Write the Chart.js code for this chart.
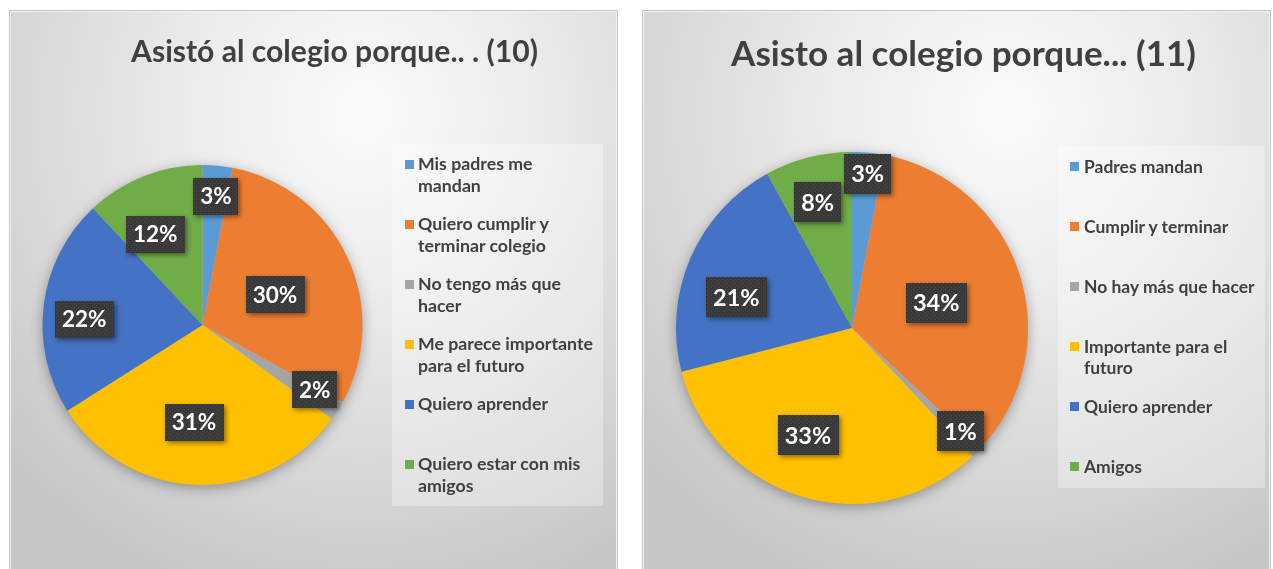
<!DOCTYPE html>
<html>
<head>
<meta charset="utf-8">
<script src="https://cdn.jsdelivr.net/npm/chart.js@4.4.1/dist/chart.umd.min.js"></script>
<style>
  html,body{margin:0;padding:0;background:#ffffff;}
  body{width:1273px;height:569px;overflow:hidden;position:relative;font-family:Lato,"Open Sans",sans-serif;}
  .panel{position:absolute;box-sizing:border-box;border:1px solid #c3c3c3;
    box-shadow:inset 0 0 0 1px #f2f2f2;
    background:radial-gradient(ellipse 80% 90% at 58% 18%, #fbfbfb 0%, #ececec 35%, #d8d8d8 70%, #c6c6c6 100%);}
  .panel canvas{position:absolute;left:0;top:0;}
  .title{position:absolute;white-space:nowrap;color:#404040;font-weight:700;line-height:1.2;text-align:center;}
  .legend{position:absolute;background:rgba(255,255,255,0.32);box-sizing:border-box;}
  .item{position:absolute;left:0;right:0;height:60px;color:#404040;font-weight:700;white-space:nowrap;}
  .item .mk{position:absolute;width:9px;height:9px;}
  .item .tx{position:absolute;}
</style>
</head>
<body>
<div class="panel" id="p10" style="left:9px;top:10px;width:609px;height:565px;">
  <canvas id="c10" width="609" height="565"></canvas>
  <div class="title" id="t10"></div>
  <div class="legend" id="l10"></div>
</div>
<div class="panel" id="p11" style="left:642px;top:10px;width:629px;height:565px;">
  <canvas id="c11" width="629" height="565"></canvas>
  <div class="title" id="t11"></div>
  <div class="legend" id="l11"></div>
</div>
<script>
// ---------------- data ----------------
const title10 = "Asistó al colegio porque.. . (10)";
const categories10 = [
  ["Mis padres me", "mandan"],
  ["Quiero cumplir y", "terminar colegio"],
  ["No tengo más que", "hacer"],
  ["Me parece importante", "para el futuro"],
  ["Quiero aprender"],
  ["Quiero estar con mis", "amigos"]
];
const values10 = [3, 30, 2, 31, 22, 12];

const title11 = "Asisto al colegio porque... (11)";
const categories11 = [
  ["Padres mandan"],
  ["Cumplir y terminar"],
  ["No hay más que hacer"],
  ["Importante para el", "futuro"],
  ["Quiero aprender"],
  ["Amigos"]
];
const values11 = [3, 34, 1, 33, 21, 8];

const sliceColors = ["#5B9BD5", "#ED7D31", "#A5A5A5", "#FFC000", "#4472C4", "#70AD47"];

// ---------------- styles / layout ----------------
function measure(text, font) {
  const c = document.createElement('canvas').getContext('2d');
  c.font = font;
  return c.measureText(text).width;
}

// dotted dark pattern for label boxes
function makePattern(ctx) {
  const pc = document.createElement('canvas');
  pc.width = 4; pc.height = 4;
  const p = pc.getContext('2d');
  p.fillStyle = '#383838'; p.fillRect(0, 0, 4, 4);
  p.fillStyle = '#4d4d4d'; p.fillRect(0, 0, 1, 1); p.fillRect(2, 2, 1, 1);
  return ctx.createPattern(pc, 'repeat');
}

const pieShadow = {
  id: 'pieShadow',
  beforeDatasetsDraw(chart) {
    const meta = chart.getDatasetMeta(0);
    if (!meta.data.length) return;
    const p = meta.data[0].getProps(['x', 'y', 'outerRadius'], true);
    const ctx = chart.ctx;
    ctx.save();
    ctx.shadowColor = 'rgba(0,0,0,0.38)';
    ctx.shadowBlur = 14;
    ctx.shadowOffsetY = 3;
    ctx.beginPath();
    ctx.arc(p.x, p.y, p.outerRadius - 1, 0, Math.PI * 2);
    ctx.fillStyle = '#bbbbbb';
    ctx.fill();
    ctx.restore();
  }
};

const boxLabels = {
  id: 'boxLabels',
  afterDatasetsDraw(chart, args, opts) {
    const ctx = chart.ctx;
    const meta = chart.getDatasetMeta(0);
    const data = chart.data.datasets[0].data;
    const pat = makePattern(ctx);
    ctx.save();
    ctx.font = 'bold ' + opts.fontSize + 'px Lato, "Open Sans", sans-serif';
    meta.data.forEach((arc, i) => {
      const p = arc.getProps(['x', 'y', 'startAngle', 'endAngle', 'outerRadius'], true);
      const a = (p.startAngle + p.endAngle) / 2 + opts.angleOffset[i] * Math.PI / 180;
      const rr = p.outerRadius * opts.radial[i];
      const cx = p.x + Math.cos(a) * rr;
      const cy = p.y + Math.sin(a) * rr;
      const text = data[i] + '%';
      const tw = ctx.measureText(text).width;
      const w = tw + 2 * opts.padX, h = opts.boxH;
      ctx.save();
      ctx.shadowColor = 'rgba(0,0,0,0.45)';
      ctx.shadowBlur = 5;
      ctx.shadowOffsetX = 2;
      ctx.shadowOffsetY = 2;
      ctx.fillStyle = pat;
      ctx.fillRect(Math.round(cx - w / 2), Math.round(cy - h / 2), Math.round(w), h);
      ctx.restore();
      ctx.fillStyle = '#ffffff';
      ctx.textAlign = 'center';
      ctx.textBaseline = 'middle';
      ctx.fillText(text, cx, cy + 1);
    });
    ctx.restore();
  }
};

function makePie(canvasId, labels, values, padding, labelStyle) {
  return new Chart(document.getElementById(canvasId), {
    type: 'pie',
    data: {
      labels: labels,
      datasets: [{
        data: values,
        backgroundColor: sliceColors,
        borderWidth: 0
      }]
    },
    options: {
      responsive: false,
      animation: false,
      layout: { padding: padding },
      plugins: {
        legend: { display: false },
        tooltip: { enabled: false },
        title: { display: false },
        boxLabels: labelStyle
      }
    },
    plugins: [pieShadow, boxLabels]
  });
}

const chart10 = makePie('c10', categories10, values10,
  { left: 32.5, top: 154, right: 256.5, bottom: 91 },
  { fontSize: 22.5, padX: 7, boxH: 37,
    radial: [0.81, 0.49, 0.81, 0.61, 0.74, 0.64],
    angleOffset: [0.6, 2.7, -2.4, 3.2, -4.3, -5.9] });

const chart11 = makePie('c11', categories11, values11,
  { left: 33, top: 141, right: 244, bottom: 72 },
  { fontSize: 23.5, padX: 7, boxH: 40,
    radial: [0.88, 0.50, 0.85, 0.66, 0.68, 0.74],
    angleOffset: [0.4, 1.2, -1.4, 6.1, -8.6, -0.9] });

// ---------------- titles ----------------
function placeTitle(id, text, panelLeft, panelTop, xStart, width, baseline) {
  const el = document.getElementById(id);
  const base = 30;
  const mw = measure(text, 'bold ' + base + 'px Lato');
  const size = base * width / mw;
  el.textContent = text;
  el.style.fontSize = size + 'px';
  el.style.left = (xStart - panelLeft) + 'px';
  el.style.width = width + 'px';
  el.style.top = (baseline - 0.987 * size - panelTop) + 'px';
}
placeTitle('t10', title10, 9, 10, 130, 407, 61);
placeTitle('t11', title11, 642, 10, 730, 465, 65);

// ---------------- legends ----------------
function buildLegend(id, chart, panelLeft, panelTop, box, markX, textX, firstBaseline, fontSize, lineH) {
  const el = document.getElementById(id);
  el.style.left = (box.x - panelLeft) + 'px';
  el.style.top = (box.y - panelTop) + 'px';
  el.style.width = box.w + 'px';
  el.style.height = box.h + 'px';
  const labels = chart.data.labels;
  const colors = chart.data.datasets[0].backgroundColor;
  const halfLead = (lineH - 1.2 * fontSize) / 2;
  const baseInLine = halfLead + 0.987 * fontSize;
  labels.forEach((lab, i) => {
    const it = document.createElement('div');
    it.className = 'item';
    const lineTop = firstBaseline + i * 60 - baseInLine - box.y;
    it.style.top = lineTop + 'px';
    const mk = document.createElement('div');
    mk.className = 'mk';
    mk.style.background = colors[i];
    mk.style.left = (markX - box.x) + 'px';
    mk.style.top = (baseInLine - 0.72 * fontSize + (0.72 * fontSize - 9) / 2) + 'px';
    const tx = document.createElement('div');
    tx.className = 'tx';
    tx.style.left = (textX - box.x) + 'px';
    tx.style.fontSize = fontSize + 'px';
    tx.style.lineHeight = lineH + 'px';
    (Array.isArray(lab) ? lab : [lab]).forEach((ln, k) => {
      if (k) tx.appendChild(document.createElement('br'));
      tx.appendChild(document.createTextNode(ln));
    });
    it.appendChild(mk);
    it.appendChild(tx);
    el.appendChild(it);
  });
}
const lf10 = 175 / measure('Me parece importante', 'bold 1px Lato');
const lf11 = 171 / measure('No hay más que hacer', 'bold 1px Lato');
buildLegend('l10', chart10, 9, 10, { x: 391, y: 143, w: 211, h: 362 }, 404, 417, 170, lf10, 21.7);
buildLegend('l11', chart11, 642, 10, { x: 1057, y: 145, w: 207, h: 342 }, 1069, 1083, 172, lf11, 21.2);
</script>
</body>
</html>
